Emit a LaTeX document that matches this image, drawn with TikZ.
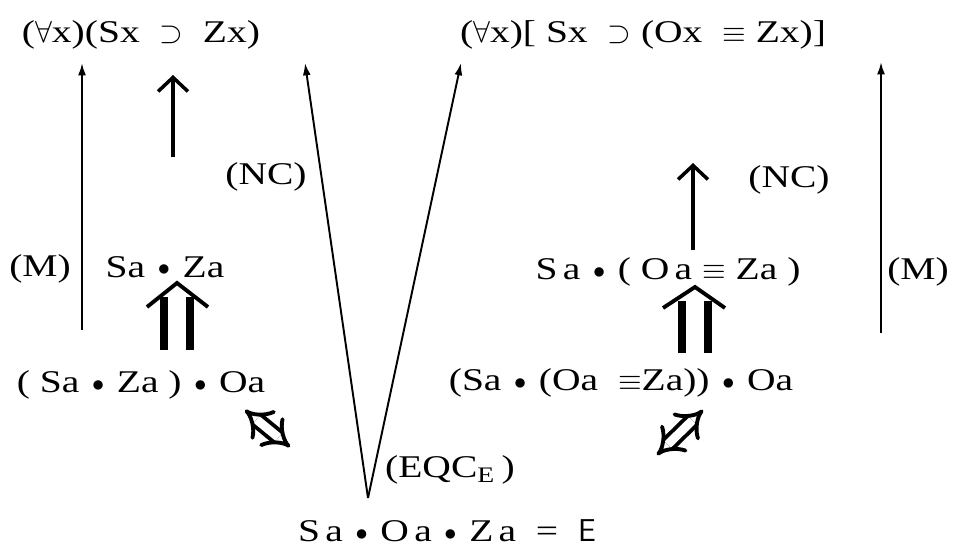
\documentclass[tikz,border=0pt]{standalone}
\usepackage{fontspec}
\setmainfont[FakeStretch=1.25]{Liberation Serif}
\usetikzlibrary{arrows.meta,calc,positioning}

\newcommand{\conj}{\hspace{0.4em}\raisebox{0.1ex}{\scalebox{0.8}{$\bullet$}}\hspace{0.4em}}

\tikzset{
  formula/.style={inner sep=2pt, font=\fontsize{18}{21}\selectfont},
  long arrow/.style={line width=1.1pt, -{Latex[length=7pt,width=4.5pt]}},
  nc arrow/.style={line width=2.8pt, -{Straight Barb[length=8pt,width=17pt,line width=2pt]}},
  shafts/.style={double, double distance=10.5pt, line width=4.5pt},
  chevron/.style={line width=2.2pt, line join=miter},
  equiv/.style={double, double distance=5pt, line width=2.2pt, {Implies}-{Implies}},
}

\begin{document}
\begin{tikzpicture}[x=0.02cm, y=-0.02cm]
\useasboundingbox (0,0) rectangle (955,554);

% top row
\node[formula] (allSZ) at (141,35) {($\forall$x)(Sx\ \ $\supset$\ \ Zx)};
\node[formula] (allSOZ) at (643,35) {($\forall$x)[\ Sx\ \ $\supset$ (Ox\ \ $\equiv$\ Zx)]};

% middle row
\node[formula] (Mleft) at (40,269) {(M)};
\node[formula] (SZ) at (165,267) {Sa\conj Za};
\node[formula] (SOZ) at (668,272) {S\,a\conj( O\,a\ $\equiv$\ Za )};
\node[formula] (Mright) at (918,272) {(M)};

% rule labels
\node[formula] (NCleft) at (266,177) {(NC)};
\node[formula] (NCright) at (789,180) {(NC)};
\node[formula] (EQC) at (450,470) {(EQC$_{\mathrm{E}}$ )};

% lower row
\node[formula] (SZO) at (141,385) {( Sa\conj Za )\conj Oa};
\node[formula] (SOZO) at (621,383) {(Sa\conj (Oa\ \ $\equiv$Za))\conj Oa};
\node[formula] (SOZE) at (447,531) {S\,a\conj O\,a\conj Z\,a\ \ =\ \ \textsf{E}};

% (M) arrows
\coordinate (mL) at (82,330);
\coordinate (mR) at (881,333);
\draw[long arrow] (mL) -- (mL |- 0,63);
\draw[long arrow] (mR) -- (mR |- 0,62);

% (NC) arrows
\coordinate (ncL) at (173,157);
\coordinate (ncR) at (693,250);
\draw[nc arrow] (ncL) -- (ncL |- 0,75);
\draw[nc arrow] (ncR) -- (ncR |- 0,163);

% the V of (EQC_E)
\coordinate (apex) at (368,498);
\coordinate (vL) at (305,63);
\coordinate (vR) at (461,63);
\draw[long arrow] (apex) -- (vL);
\draw[long arrow] (apex) -- (vR);

% double arrows
\coordinate (dblL) at (177,283);
\coordinate (dblR) at (695,287);
\draw[shafts] (dblL |- 0,350) -- (dblL |- 0,297);
\draw[chevron] ($(dblL)+(-30,24)$) -- (dblL) -- ($(dblL)+(31,24)$);
\draw[shafts] (dblR |- 0,353) -- (dblR |- 0,301);
\draw[chevron] ($(dblR)+(-32,21)$) -- (dblR) -- ($(dblR)+(30,21)$);

% equivalences
\coordinate (eqL1) at (245,410);
\coordinate (eqL2) at (290,447);
\coordinate (eqR1) at (703,410);
\coordinate (eqR2) at (657,455);
\draw[equiv] (eqL1) -- (eqL2);
\draw[equiv] (eqR1) -- (eqR2);
\end{tikzpicture}
\end{document}
